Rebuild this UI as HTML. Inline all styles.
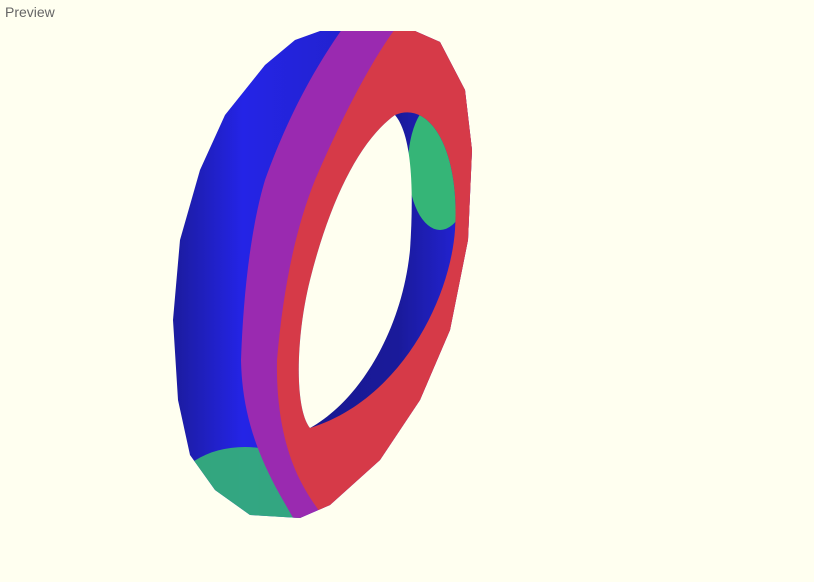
<!DOCTYPE html>
<html><head><meta charset="utf-8"><style>
html,body{margin:0;padding:0;width:814px;height:582px;overflow:hidden;background:#fffff0;}
#title{position:absolute;left:5px;top:4px;font:14px "Liberation Sans",sans-serif;color:#666;}
svg{position:absolute;left:0;top:0;}
</style></head><body>
<div id="title">Preview</div>
<svg width="814" height="582">
<defs>
<linearGradient id="bg" x1="0" y1="0" x2="1" y2="0">
<stop offset="0" stop-color="#1a1a90"/><stop offset="0.25" stop-color="#2424e6"/><stop offset="0.6" stop-color="#2222cc"/><stop offset="1" stop-color="#1c1c99"/></linearGradient>
<linearGradient id="ig" x1="0" y1="0" x2="1" y2="0">
<stop offset="0" stop-color="#181890"/><stop offset="0.6" stop-color="#1a1a9a"/><stop offset="1" stop-color="#2424dd"/></linearGradient>
<clipPath id="blueclip"><path d="M320,31 L415,31 L440,42 L465,90 L472,150 L468,240 L450,330 L420,400 L380,460 L330,505 L300,518 L250,515 L215,490 L190,455 L178,400 L173,320 L180,240 L200,170 L225,115 L265,65 L295,40 Z"/></clipPath>
<clipPath id="holeclip"><path d="M395,115 C430,100 460,150 455,230 C450,300 400,400 310,428 C295,410 295,340 310,280 C330,200 360,140 395,115 Z"/></clipPath>
</defs>
<g clip-path="url(#blueclip)">
<rect x="160" y="20" width="330" height="510" fill="url(#bg)"/>
<ellipse cx="245" cy="492" rx="70" ry="45" fill="#35b577" opacity="0.9"/>
<path d="M345,25 C320,60 290,110 265,180 C250,230 243,300 241,360 C242,410 255,450 280,495 L300,530 L500,530 L500,25 Z" fill="#9a2ab0"/>
<path d="M398,25 C375,55 345,110 315,180 C295,230 283,290 277,360 C276,410 285,450 300,480 C310,500 318,508 325,520 L500,530 L500,25 Z" fill="#d63a48"/>
</g>
<g clip-path="url(#holeclip)">
<rect x="290" y="100" width="180" height="340" fill="url(#ig)"/>
<ellipse cx="440" cy="165" rx="32" ry="65" fill="#35b577"/>
</g>
<path d="M310,428 C295,410 295,340 310,280 C330,200 360,140 395,115 C412,135 414,190 410,250 C402,330 360,400 310,428 Z" fill="#fffff0"/>
</svg>
</body></html>
